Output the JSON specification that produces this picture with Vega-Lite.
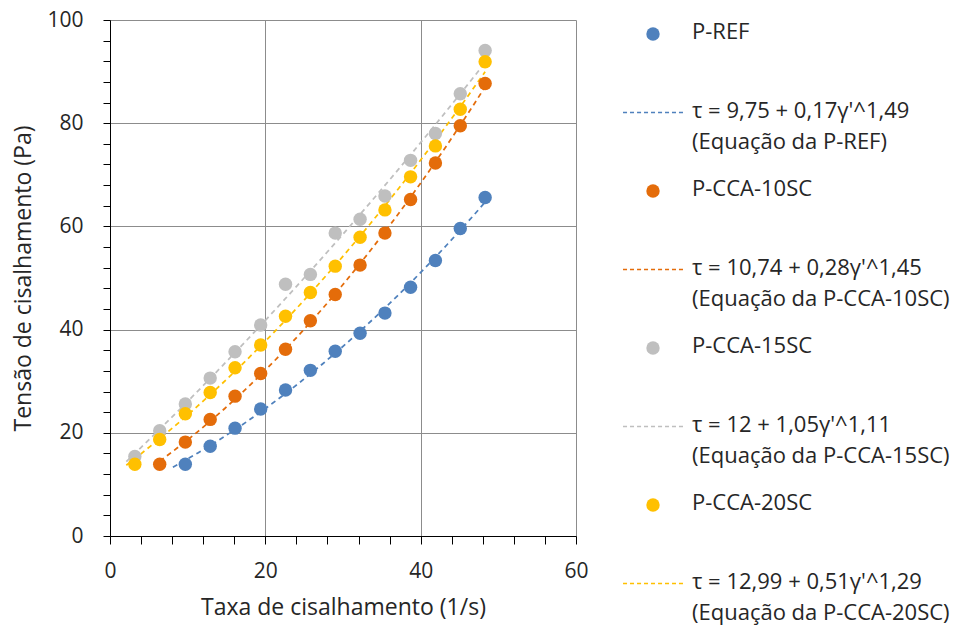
{
  "$schema": "https://vega.github.io/schema/vega-lite/v6.json",
  "width": 466,
  "height": 516,
  "autosize": "none",
  "padding": {"left": 110, "top": 20, "right": 396, "bottom": 92},
  "background": "white",
  "config": {
    "font": "Open Sans",
    "view": {"stroke": null},
    "style": {"guide-label": {"dy": -12, "lineHeight": 31}},
    "axis": {
      "labelFontSize": 21,
      "titleFontSize": 23,
      "titleFontWeight": "normal",
      "labelColor": "#262626",
      "titleColor": "#262626",
      "domainColor": "#000000",
      "tickColor": "#000000",
      "gridColor": "#8c8c8c",
      "labelFlush": false,
      "labelOverlap": false
    },
    "legend": {
      "orient": "right",
      "offset": 20,
      "padding": 3,
      "symbolSize": 180,
      "symbolOffset": 43,
      "labelOffset": 28,
      "labelFontSize": 22,
      "labelColor": "#262626",
      "labelLimit": 400,
      "labelBaseline": "top",
      "gridAlign": "all",
      "rowPadding": 25.5
    }
  },
  "resolve": {"legend": {"color": "independent", "shape": "independent"}},
  "datasets": {
    "pts": [
      {"series": "P-REF", "x": 9.7, "y": 13.9},
      {"series": "P-REF", "x": 12.9, "y": 17.4},
      {"series": "P-REF", "x": 16.1, "y": 20.9},
      {"series": "P-REF", "x": 19.4, "y": 24.6},
      {"series": "P-REF", "x": 22.6, "y": 28.3},
      {"series": "P-REF", "x": 25.8, "y": 32.1},
      {"series": "P-REF", "x": 29.0, "y": 35.8},
      {"series": "P-REF", "x": 32.2, "y": 39.3},
      {"series": "P-REF", "x": 35.4, "y": 43.2},
      {"series": "P-REF", "x": 38.7, "y": 48.2},
      {"series": "P-REF", "x": 41.9, "y": 53.4},
      {"series": "P-REF", "x": 45.1, "y": 59.6},
      {"series": "P-REF", "x": 48.3, "y": 65.6},
      {"series": "P-CCA-10SC", "x": 6.4, "y": 13.9},
      {"series": "P-CCA-10SC", "x": 9.7, "y": 18.2},
      {"series": "P-CCA-10SC", "x": 12.9, "y": 22.6},
      {"series": "P-CCA-10SC", "x": 16.1, "y": 27.1},
      {"series": "P-CCA-10SC", "x": 19.4, "y": 31.5},
      {"series": "P-CCA-10SC", "x": 22.6, "y": 36.2},
      {"series": "P-CCA-10SC", "x": 25.8, "y": 41.7},
      {"series": "P-CCA-10SC", "x": 29.0, "y": 46.8},
      {"series": "P-CCA-10SC", "x": 32.2, "y": 52.5},
      {"series": "P-CCA-10SC", "x": 35.4, "y": 58.7},
      {"series": "P-CCA-10SC", "x": 38.7, "y": 65.2},
      {"series": "P-CCA-10SC", "x": 41.9, "y": 72.3},
      {"series": "P-CCA-10SC", "x": 45.1, "y": 79.5},
      {"series": "P-CCA-10SC", "x": 48.3, "y": 87.7},
      {"series": "P-CCA-15SC", "x": 3.2, "y": 15.4},
      {"series": "P-CCA-15SC", "x": 6.4, "y": 20.4},
      {"series": "P-CCA-15SC", "x": 9.7, "y": 25.6},
      {"series": "P-CCA-15SC", "x": 12.9, "y": 30.6},
      {"series": "P-CCA-15SC", "x": 16.1, "y": 35.7},
      {"series": "P-CCA-15SC", "x": 19.4, "y": 40.9},
      {"series": "P-CCA-15SC", "x": 22.6, "y": 48.8},
      {"series": "P-CCA-15SC", "x": 25.8, "y": 50.7},
      {"series": "P-CCA-15SC", "x": 29.0, "y": 58.7},
      {"series": "P-CCA-15SC", "x": 32.2, "y": 61.4},
      {"series": "P-CCA-15SC", "x": 35.4, "y": 65.9},
      {"series": "P-CCA-15SC", "x": 38.7, "y": 72.8},
      {"series": "P-CCA-15SC", "x": 41.9, "y": 78.0},
      {"series": "P-CCA-15SC", "x": 45.1, "y": 85.7},
      {"series": "P-CCA-15SC", "x": 48.3, "y": 94.1},
      {"series": "P-CCA-20SC", "x": 3.2, "y": 13.9},
      {"series": "P-CCA-20SC", "x": 6.4, "y": 18.7},
      {"series": "P-CCA-20SC", "x": 9.7, "y": 23.7},
      {"series": "P-CCA-20SC", "x": 12.9, "y": 27.8},
      {"series": "P-CCA-20SC", "x": 16.1, "y": 32.6},
      {"series": "P-CCA-20SC", "x": 19.4, "y": 37.0},
      {"series": "P-CCA-20SC", "x": 22.6, "y": 42.6},
      {"series": "P-CCA-20SC", "x": 25.8, "y": 47.2},
      {"series": "P-CCA-20SC", "x": 29.0, "y": 52.3},
      {"series": "P-CCA-20SC", "x": 32.2, "y": 57.9},
      {"series": "P-CCA-20SC", "x": 35.4, "y": 63.2},
      {"series": "P-CCA-20SC", "x": 38.7, "y": 69.6},
      {"series": "P-CCA-20SC", "x": 41.9, "y": 75.6},
      {"series": "P-CCA-20SC", "x": 45.1, "y": 82.7},
      {"series": "P-CCA-20SC", "x": 48.3, "y": 91.9}
    ]
  },
  "encoding": {
    "x": {
      "field": "x",
      "type": "quantitative",
      "scale": {"domain": [0, 60], "nice": false, "zero": false},
      "axis": {
        "title": "Taxa de cisalhamento (1/s)",
        "values": [0, 4, 8, 12, 16, 20, 24, 28, 32, 36, 40, 44, 48, 52, 56, 60],
        "labelExpr": "datum.value % 20 === 0 ? datum.label : ''",
        "grid": true,
        "gridOpacity": {"condition": {"test": "datum.value % 20 === 0", "value": 1}, "value": 0},
        "tickSize": 8,
        "labelPadding": 28,
        "titlePadding": 15
      }
    },
    "y": {
      "field": "y",
      "type": "quantitative",
      "scale": {"domain": [0, 100], "nice": false, "zero": false},
      "axis": {
        "title": "Tensão de cisalhamento (Pa)",
        "values": [0, 4, 8, 12, 16, 20, 24, 28, 32, 36, 40, 44, 48, 52, 56, 60, 64, 68, 72, 76, 80, 84, 88, 92, 96, 100],
        "labelExpr": "datum.value % 20 === 0 ? datum.label : ''",
        "grid": true,
        "gridOpacity": {"condition": {"test": "datum.value % 20 === 0", "value": 1}, "value": 0},
        "tickSize": 7,
        "labelPadding": 20,
        "labelOffset": 12,
        "titlePadding": 11
      }
    }
  },
  "layer": [
    {
      "data": {"name": "pts"},
      "transform": [
        {"filter": "datum.series === 'P-REF'"},
        {"regression": "y", "on": "x", "method": "poly", "order": 2, "extent": [8.1, 48.3]},
        {"calculate": "'fit P-REF'", "as": "key"}
      ],
      "mark": {"type": "line", "strokeDash": [5, 4], "strokeWidth": 1.75},
      "encoding": {"color": {"field": "key", "type": "nominal", "legend": null}}
    },
    {
      "data": {"name": "pts"},
      "transform": [
        {"filter": "datum.series === 'P-CCA-10SC'"},
        {"regression": "y", "on": "x", "method": "poly", "order": 2, "extent": [6.4, 48.3]},
        {"calculate": "'fit P-CCA-10SC'", "as": "key"}
      ],
      "mark": {"type": "line", "strokeDash": [5, 4], "strokeWidth": 1.75},
      "encoding": {"color": {"field": "key", "type": "nominal", "legend": null}}
    },
    {
      "data": {"name": "pts"},
      "transform": [
        {"filter": "datum.series === 'P-CCA-15SC'"},
        {"regression": "y", "on": "x", "method": "poly", "order": 2, "extent": [2.1, 48.3]},
        {"calculate": "'fit P-CCA-15SC'", "as": "key"}
      ],
      "mark": {"type": "line", "strokeDash": [5, 4], "strokeWidth": 1.75},
      "encoding": {"color": {"field": "key", "type": "nominal", "legend": null}}
    },
    {
      "data": {"name": "pts"},
      "transform": [
        {"filter": "datum.series === 'P-CCA-20SC'"},
        {"regression": "y", "on": "x", "method": "poly", "order": 2, "extent": [2.1, 48.3]},
        {"calculate": "'fit P-CCA-20SC'", "as": "key"}
      ],
      "mark": {"type": "line", "strokeDash": [5, 4], "strokeWidth": 1.75},
      "encoding": {"color": {"field": "key", "type": "nominal", "legend": null}}
    },
    {
      "data": {"name": "pts"},
      "transform": [{"calculate": "datum.series", "as": "key"}],
      "mark": {"type": "point", "filled": true, "size": 180, "opacity": 1},
      "encoding": {
        "color": {
          "field": "key",
          "type": "nominal",
          "scale": {
            "domain": ["P-REF", "fit P-REF", "P-CCA-10SC", "fit P-CCA-10SC", "P-CCA-15SC", "fit P-CCA-15SC", "P-CCA-20SC", "fit P-CCA-20SC"],
            "range": ["#4F81BD", "#4F81BD", "#E46C0A", "#E46C0A", "#BFBFBF", "#BFBFBF", "#FFC000", "#FFC000"]
          },
          "legend": {
            "title": null,
            "labelExpr": "datum.value === 'fit P-REF' ? [\"τ = 9,75 + 0,17γ'^1,49\", \"(Equação da P-REF)\"] : datum.value === 'fit P-CCA-10SC' ? [\"τ = 10,74 + 0,28γ'^1,45\", \"(Equação da P-CCA-10SC)\"] : datum.value === 'fit P-CCA-15SC' ? [\"τ = 12 + 1,05γ'^1,11\", \"(Equação da P-CCA-15SC)\"] : datum.value === 'fit P-CCA-20SC' ? [\"τ = 12,99 + 0,51γ'^1,29\", \"(Equação da P-CCA-20SC)\"] : datum.label"
          }
        },
        "shape": {
          "field": "key",
          "type": "nominal",
          "scale": {
            "domain": ["P-REF", "fit P-REF", "P-CCA-10SC", "fit P-CCA-10SC", "P-CCA-15SC", "fit P-CCA-15SC", "P-CCA-20SC", "fit P-CCA-20SC"],
            "range": [
              "circle",
              "M-4.47,-0.11h0.6v0.22h-0.6zM-3.43,-0.11h0.6v0.22h-0.6zM-2.38,-0.11h0.6v0.22h-0.6zM-1.34,-0.11h0.6v0.22h-0.6zM-0.3,-0.11h0.6v0.22h-0.6zM0.75,-0.11h0.6v0.22h-0.6zM1.79,-0.11h0.6v0.22h-0.6zM2.83,-0.11h0.6v0.22h-0.6zM3.87,-0.11h0.6v0.22h-0.6z",
              "circle",
              "M-4.47,-0.11h0.6v0.22h-0.6zM-3.43,-0.11h0.6v0.22h-0.6zM-2.38,-0.11h0.6v0.22h-0.6zM-1.34,-0.11h0.6v0.22h-0.6zM-0.3,-0.11h0.6v0.22h-0.6zM0.75,-0.11h0.6v0.22h-0.6zM1.79,-0.11h0.6v0.22h-0.6zM2.83,-0.11h0.6v0.22h-0.6zM3.87,-0.11h0.6v0.22h-0.6z",
              "circle",
              "M-4.47,-0.11h0.6v0.22h-0.6zM-3.43,-0.11h0.6v0.22h-0.6zM-2.38,-0.11h0.6v0.22h-0.6zM-1.34,-0.11h0.6v0.22h-0.6zM-0.3,-0.11h0.6v0.22h-0.6zM0.75,-0.11h0.6v0.22h-0.6zM1.79,-0.11h0.6v0.22h-0.6zM2.83,-0.11h0.6v0.22h-0.6zM3.87,-0.11h0.6v0.22h-0.6z",
              "circle",
              "M-4.47,-0.11h0.6v0.22h-0.6zM-3.43,-0.11h0.6v0.22h-0.6zM-2.38,-0.11h0.6v0.22h-0.6zM-1.34,-0.11h0.6v0.22h-0.6zM-0.3,-0.11h0.6v0.22h-0.6zM0.75,-0.11h0.6v0.22h-0.6zM1.79,-0.11h0.6v0.22h-0.6zM2.83,-0.11h0.6v0.22h-0.6zM3.87,-0.11h0.6v0.22h-0.6z"
            ]
          },
          "legend": {
            "title": null,
            "labelExpr": "datum.value === 'fit P-REF' ? [\"τ = 9,75 + 0,17γ'^1,49\", \"(Equação da P-REF)\"] : datum.value === 'fit P-CCA-10SC' ? [\"τ = 10,74 + 0,28γ'^1,45\", \"(Equação da P-CCA-10SC)\"] : datum.value === 'fit P-CCA-15SC' ? [\"τ = 12 + 1,05γ'^1,11\", \"(Equação da P-CCA-15SC)\"] : datum.value === 'fit P-CCA-20SC' ? [\"τ = 12,99 + 0,51γ'^1,29\", \"(Equação da P-CCA-20SC)\"] : datum.label"
          }
        }
      }
    }
  ]
}
